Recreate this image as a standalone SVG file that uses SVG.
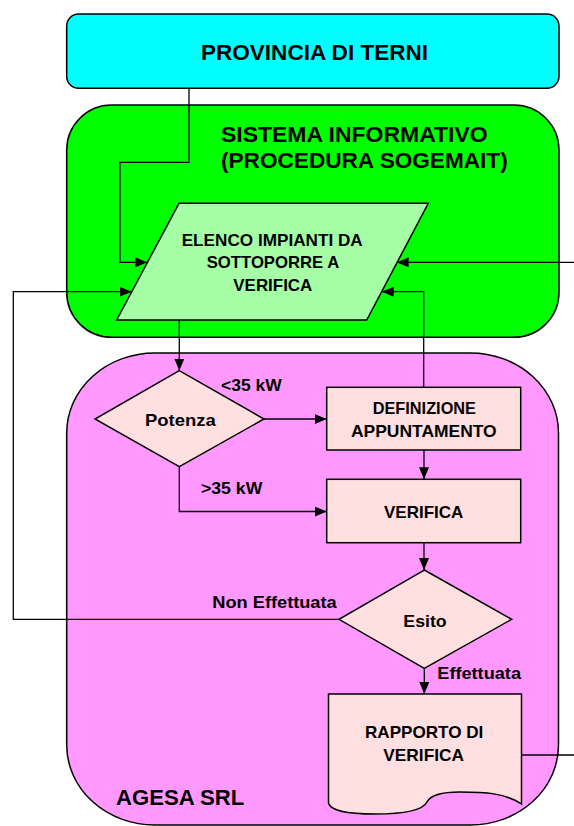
<svg xmlns="http://www.w3.org/2000/svg" width="574" height="826" viewBox="0 0 574 826">
<style>
.c{fill:none;stroke:#000;stroke-width:1.3}
.n{stroke:#000;stroke-width:1.5}
.nd{fill:#FFDFDF;stroke:#000;stroke-width:1.5}
text{font-family:"Liberation Sans",Arial,sans-serif;font-weight:bold;fill:#000}
.h{font-size:22px}
.l{font-size:17px}
</style>
<defs>
<marker id="a" markerWidth="12" markerHeight="10" refX="12" refY="5" orient="auto" markerUnits="userSpaceOnUse">
<path d="M0,0 L12,5 L0,10 Z" fill="#000"/>
</marker>
</defs>
<g id="provincia">
<rect x="66.7" y="14" width="492.3" height="74.3" rx="12" fill="#00FFFF" class="n"/>
<text class="h" x="201" y="60" textLength="227" lengthAdjust="spacingAndGlyphs">PROVINCIA DI TERNI</text>
</g>
<g id="sistema">
<rect x="66.7" y="105" width="492.3" height="232.3" rx="45" fill="#00FF00" class="n"/>
<text class="h" x="221" y="142.3" textLength="266.7" lengthAdjust="spacingAndGlyphs">SISTEMA INFORMATIVO</text>
<text class="h" x="221" y="168.3" textLength="286.7" lengthAdjust="spacingAndGlyphs">(PROCEDURA SOGEMAIT)</text>
</g>
<g id="agesa">
<rect x="66.7" y="353" width="491.8" height="472" rx="88" ry="80" fill="#FF99FF" class="n"/>
<text class="h" x="116" y="805" textLength="128.3" lengthAdjust="spacingAndGlyphs">AGESA SRL</text>
</g>
<g id="elenco">
<polygon points="179,203.3 428.3,203.3 366.7,320 116.7,320" fill="#A6FFA6" class="n"/>
<text class="l" x="181.7" y="245.7" textLength="181" lengthAdjust="spacingAndGlyphs">ELENCO IMPIANTI DA</text>
<text class="l" x="206.7" y="268.3" textLength="132.6" lengthAdjust="spacingAndGlyphs">SOTTOPORRE A</text>
<text class="l" x="233.3" y="291" textLength="79" lengthAdjust="spacingAndGlyphs">VERIFICA</text>
</g>
<g id="potenza">
<polygon points="179.3,370.7 264,419 179.3,466.7 95,419" class="nd"/>
<text class="l" x="145" y="425.7" textLength="70.7" lengthAdjust="spacingAndGlyphs">Potenza</text>
</g>
<g id="definizione">
<rect x="326.7" y="387.3" width="194" height="62.7" class="nd"/>
<text class="l" x="372.7" y="414" textLength="103.3" lengthAdjust="spacingAndGlyphs">DEFINIZIONE</text>
<text class="l" x="351" y="436.7" textLength="145.7" lengthAdjust="spacingAndGlyphs">APPUNTAMENTO</text>
</g>
<g id="verifica">
<rect x="326.7" y="479.3" width="194" height="63.4" class="nd"/>
<text class="l" x="384" y="517.7" textLength="79.3" lengthAdjust="spacingAndGlyphs">VERIFICA</text>
</g>
<g id="esito">
<polygon points="424.3,570 511.7,619.3 424.3,668.3 339,619.3" class="nd"/>
<text class="l" x="403.3" y="626.7" textLength="43.4" lengthAdjust="spacingAndGlyphs">Esito</text>
</g>
<g id="rapporto">
<path d="M328.5,694 H521.5 V804 C505,793 485,792 460,792 C440,792 430,796 427,802 C423,810 405,814 375,814 C345,814 330,810 328.5,803 Z" class="nd"/>
<text class="l" x="365" y="737.7" textLength="118.3" lengthAdjust="spacingAndGlyphs">RAPPORTO DI</text>
<text class="l" x="383.3" y="760.7" textLength="80.7" lengthAdjust="spacingAndGlyphs">VERIFICA</text>
</g>
<g id="connectors">
<path class="c" d="M189,88.3 V162.3 H120 V262.3 H147.3" marker-end="url(#a)"/>
<path class="c" d="M574,262.3 H396.7" marker-end="url(#a)"/>
<path class="c" d="M423.7,387.3 V291.7 H381.7" marker-end="url(#a)"/>
<path class="c" d="M339,619.3 H13.3 V291.7 H131.7" marker-end="url(#a)"/>
<path class="c" d="M179.3,320 V370.7" marker-end="url(#a)"/>
<path class="c" d="M264,419 H326.7" marker-end="url(#a)"/>
<path class="c" d="M179.3,466.7 V511.5 H326.7" marker-end="url(#a)"/>
<path class="c" d="M424,450 V479.3" marker-end="url(#a)"/>
<path class="c" d="M424,542.7 V570" marker-end="url(#a)"/>
<path class="c" d="M424.3,668.3 V694" marker-end="url(#a)"/>
<path class="c" d="M521.5,755 H574"/>
<text class="l" x="221" y="390.7" textLength="60.7" lengthAdjust="spacingAndGlyphs">&lt;35 kW</text>
<text class="l" x="201" y="494.3" textLength="61.3" lengthAdjust="spacingAndGlyphs">&gt;35 kW</text>
<text class="l" x="212.3" y="608.3" textLength="124.4" lengthAdjust="spacingAndGlyphs">Non Effettuata</text>
<text class="l" x="437.3" y="679.3" textLength="83.7" lengthAdjust="spacingAndGlyphs">Effettuata</text>
</g>
</svg>
